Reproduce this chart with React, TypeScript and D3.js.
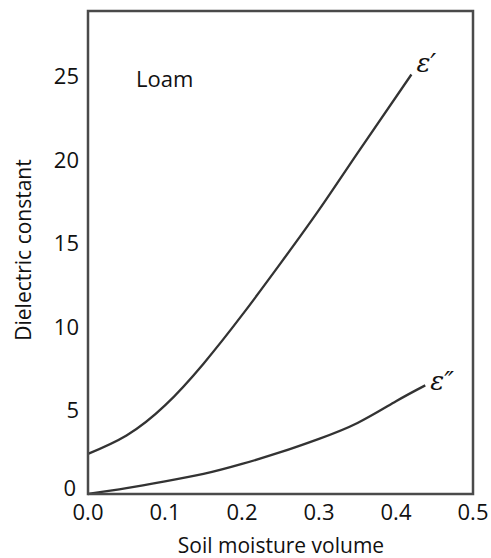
import React, { useRef, useEffect } from 'react';
import * as d3 from 'd3';

const moisture = [0, 0.05, 0.1, 0.15, 0.2, 0.25, 0.3, 0.35, 0.42];
const epsReal = [2.4, 3.5, 5.3, 7.8, 10.7, 13.8, 17.0, 20.4, 25.1];

const moistureImag = [0, 0.05, 0.1, 0.15, 0.2, 0.25, 0.3, 0.35, 0.4, 0.438];
const epsImag = [0, 0.35, 0.75, 1.2, 1.8, 2.5, 3.3, 4.25, 5.55, 6.5];

const xTicks = [0, 0.1, 0.2, 0.3, 0.4, 0.5];
const yTicks = [0, 5, 10, 15, 20, 25];

const FONT = '"Open Sans", Lato, sans-serif';

export default function App() {
  const svgRef = useRef<SVGSVGElement>(null);

  useEffect(() => {
    const svg = d3.select(svgRef.current);
    svg.selectAll('*').remove();

    const width = 491;
    const height = 558;
    const left = 88, right = 473, top = 11, bottom = 494;

    const x = d3.scaleLinear().domain([0, 0.5]).range([left, right]);
    const y = d3.scaleLinear().domain([0, 28.9]).range([bottom, top]);

    svg.attr('width', width).attr('height', height);

    const line = d3.line<[number, number]>()
      .x(d => x(d[0]))
      .y(d => y(d[1]))
      .curve(d3.curveNatural);

    // curves
    svg.append('path')
      .datum(moisture.map((m, i) => [m, epsReal[i]] as [number, number]))
      .attr('d', line)
      .attr('fill', 'none')
      .attr('stroke', '#333')
      .attr('stroke-width', 2.3);

    svg.append('path')
      .datum(moistureImag.map((m, i) => [m, epsImag[i]] as [number, number]))
      .attr('d', line)
      .attr('fill', 'none')
      .attr('stroke', '#333')
      .attr('stroke-width', 2.3);

    // frame
    svg.append('rect')
      .attr('x', left)
      .attr('y', top)
      .attr('width', right - left)
      .attr('height', bottom - top)
      .attr('fill', 'none')
      .attr('stroke', '#4a4a4a')
      .attr('stroke-width', 2.5);

    // y tick labels
    svg.append('g')
      .selectAll('text')
      .data(yTicks)
      .enter()
      .append('text')
      .attr('x', d => (d === 0 ? left - 12 : left - 9))
      .attr('y', d => (d === 0 ? y(d) - 6 : y(d)))
      .attr('dy', '0.36em')
      .attr('text-anchor', 'end')
      .attr('font-family', FONT)
      .attr('font-size', 22)
      .attr('fill', '#111')
      .text(d => d);

    // x tick labels
    svg.append('g')
      .selectAll('text')
      .data(xTicks)
      .enter()
      .append('text')
      .attr('x', d => x(d))
      .attr('y', bottom + 26)
      .attr('text-anchor', 'middle')
      .attr('font-family', FONT)
      .attr('font-size', 22)
      .attr('fill', '#111')
      .text(d => d.toFixed(1));

    // axis titles
    svg.append('text')
      .attr('x', 281)
      .attr('y', 553)
      .attr('text-anchor', 'middle')
      .attr('font-family', FONT)
      .attr('font-size', 21)
      .attr('fill', '#111')
      .text('Soil moisture volume');

    svg.append('text')
      .attr('transform', `translate(31, 250) rotate(-90)`)
      .attr('text-anchor', 'middle')
      .attr('font-family', FONT)
      .attr('font-size', 21)
      .attr('fill', '#111')
      .text('Dielectric constant');

    // annotations
    svg.append('text')
      .attr('x', 136)
      .attr('y', 87)
      .attr('font-family', FONT)
      .attr('font-size', 22)
      .attr('fill', '#111')
      .text('Loam');

    svg.append('text')
      .attr('x', x(0.42) + 5)
      .attr('y', y(25.1) - 3)
      .attr('font-family', '"DejaVu Serif", serif')
      .attr('font-style', 'italic')
      .attr('font-size', 26)
      .attr('fill', '#111')
      .text('ε′');

    svg.append('text')
      .attr('x', x(0.438) + 5)
      .attr('y', y(6.5) + 5)
      .attr('font-family', '"DejaVu Serif", serif')
      .attr('font-style', 'italic')
      .attr('font-size', 26)
      .attr('fill', '#111')
      .text('ε″');
  }, []);

  return (
    <svg
      ref={svgRef}
      style={{ position: 'absolute', left: 0, top: 0, display: 'block', background: '#fff' }}
    />
  );
}
